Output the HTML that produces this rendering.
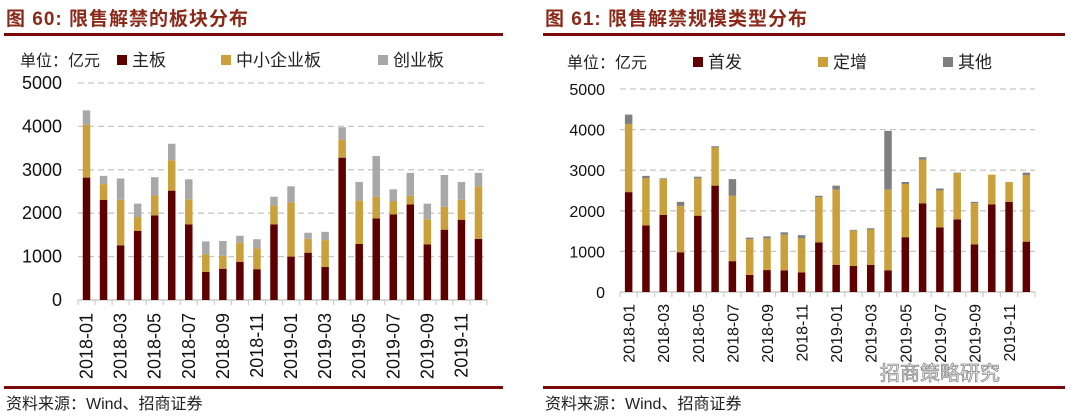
<!DOCTYPE html>
<html><head><meta charset="utf-8"><style>
body{margin:0;width:1079px;height:418px;background:#fff;overflow:hidden;font-family:"Liberation Sans","Noto Sans CJK SC",sans-serif}
svg{display:block}
</style></head><body>
<svg id="s" width="1079" height="418" xmlns="http://www.w3.org/2000/svg" font-family="Liberation Sans, Noto Sans CJK SC, sans-serif">
<text x="6" y="25" font-size="19" font-weight="bold" fill="#8b2a1a" letter-spacing="1">图 60:  限售解禁的板块分布</text>
<rect x="4" y="33" width="499" height="3" fill="#7a0a0a"/>
<text x="545" y="25" font-size="19" font-weight="bold" fill="#8b2a1a" letter-spacing="1">图 61:  限售解禁规模类型分布</text>
<rect x="543" y="33" width="522" height="3" fill="#7a0a0a"/>
<rect x="4" y="386" width="499" height="3" fill="#7a0a0a"/>
<rect x="543" y="386" width="522" height="3" fill="#7a0a0a"/>
<text x="6" y="409" font-size="16" fill="#222">资料来源：Wind、招商证券</text>
<text x="545" y="409" font-size="16" fill="#222">资料来源：Wind、招商证券</text>
<text x="880" y="380" font-size="20" fill="#fff" stroke="#888" stroke-width="0.8">招商策略研究</text>
<g id="c1"></g><g id="c2"></g>
</svg>
<script>
const months=["2018-01","2018-02","2018-03","2018-04","2018-05","2018-06","2018-07","2018-08","2018-09","2018-10","2018-11","2018-12","2019-01","2019-02","2019-03","2019-04","2019-05","2019-06","2019-07","2019-08","2019-09","2019-10","2019-11","2019-12"];
const mainBoard=[2820,2310,1260,1590,1950,2520,1740,650,720,880,710,1740,1000,1090,760,3280,1290,1880,1970,2200,1280,1620,1850,1410];
const smeBoard=[1220,360,1050,320,460,700,580,400,300,440,480,440,1250,320,620,410,1000,500,300,200,580,530,460,1210];
const gemBoard=[330,190,490,310,420,380,460,300,340,160,210,200,370,140,190,290,430,940,280,530,360,730,410,310];
const ipo=[2460,1640,1900,980,1880,2620,760,420,540,530,480,1220,670,640,670,530,1350,2180,1590,1790,1170,2160,2220,1240];
const placement=[1680,1160,880,1140,920,940,1610,880,780,880,840,1120,1850,870,870,1990,1310,1080,910,1140,1020,730,490,1640];
const other=[230,60,20,100,40,30,410,40,50,60,80,30,100,20,30,1450,50,60,50,10,30,0,0,60];
const yTicks=[0,1000,2000,3000,4000,5000];
const NS="http://www.w3.org/2000/svg";
function mk(p,tag,at,txt){const e=document.createElementNS(NS,tag);for(const k in at)e.setAttribute(k,at[k]);if(txt!==undefined)e.textContent=txt;p.appendChild(e);return e;}
function chart(g,cfg){
  const n=months.length,bw=(cfg.x1-cfg.x0)/n;
  const y=v=>cfg.y0-(v/5000)*(cfg.y0-cfg.yTop);
  const xc=i=>cfg.x0+bw*(i+0.5);
  yTicks.forEach(t=>{
    if(t>0){const l=mk(g,'line',{x1:cfg.x0,x2:cfg.x1,y1:y(t),y2:y(t),stroke:'#c8c8c8','stroke-width':1.3,'stroke-dasharray':'6,4'});
    
    }
    const tx=mk(g,'text',{x:cfg.lx,y:y(t)+6,'font-size':cfg.fs,'text-anchor':'end',fill:'#111'},t);
    
    
  });
  const ax=mk(g,'line',{x1:cfg.x0,x2:cfg.x1,y1:cfg.y0,y2:cfg.y0,stroke:'#ccc','stroke-width':1.5});
  
  
  for(let i=0;i<=n;i++){const tk=mk(g,'line',{x1:cfg.x0+bw*i,x2:cfg.x0+bw*i,y1:cfg.y0,y2:cfg.y0+5,stroke:'#ccc','stroke-width':1.2});
    
    }
  months.forEach((m,i)=>{
    let base=0;
    cfg.series.forEach(s=>{
      const v=s.data[i];
      const r=mk(g,'rect',{x:xc(i)-cfg.w/2,y:y(base+v),width:cfg.w,height:y(base)-y(base+v),fill:s.color});
      
      
      base+=v;
    });
    if(i%2===0){
      const t=mk(g,'text',{transform:`translate(${xc(i)+6},${cfg.y0+cfg.ly}) rotate(-90)`,'font-size':cfg.fs,'text-anchor':'end',fill:'#111'},m);
      
      
    }
  });
  const u=mk(g,'text',{x:cfg.ux,y:cfg.legY+6,'font-size':16,fill:'#222'},'单位：亿元');
  
  
  cfg.series.forEach((s,k)=>{
    const lx=cfg.legX[k];
    const sq=mk(g,'rect',{x:lx,y:cfg.legY-5,width:10,height:10,fill:s.color});
    
    
    const lt=mk(g,'text',{x:lx+15,y:cfg.legY+6,'font-size':17,fill:'#222'},s.label);
    
    
  });
}
chart(document.getElementById('c1'),{x0:78,x1:487,y0:300,yTop:83,w:7.5,lx:62,fs:18,ly:13,ux:20,legY:60,legX:[117,221,378],
  series:[{key:'main',label:'主板',data:mainBoard,color:'#5e0000'},{key:'sme',label:'中小企业板',data:smeBoard,color:'#c9a03a'},{key:'gem',label:'创业板',data:gemBoard,color:'#a8a8a8'}]});
chart(document.getElementById('c2'),{x0:620,x1:1035,y0:292,yTop:89,w:7.5,lx:605,fs:16,ly:12,ux:567,legY:62,legX:[693,818,943],
  series:[{key:'ipo',label:'首发',data:ipo,color:'#5e0000'},{key:'placement',label:'定增',data:placement,color:'#c9a03a'},{key:'other',label:'其他',data:other,color:'#7f7f7f'}]});
</script>
</body></html>
